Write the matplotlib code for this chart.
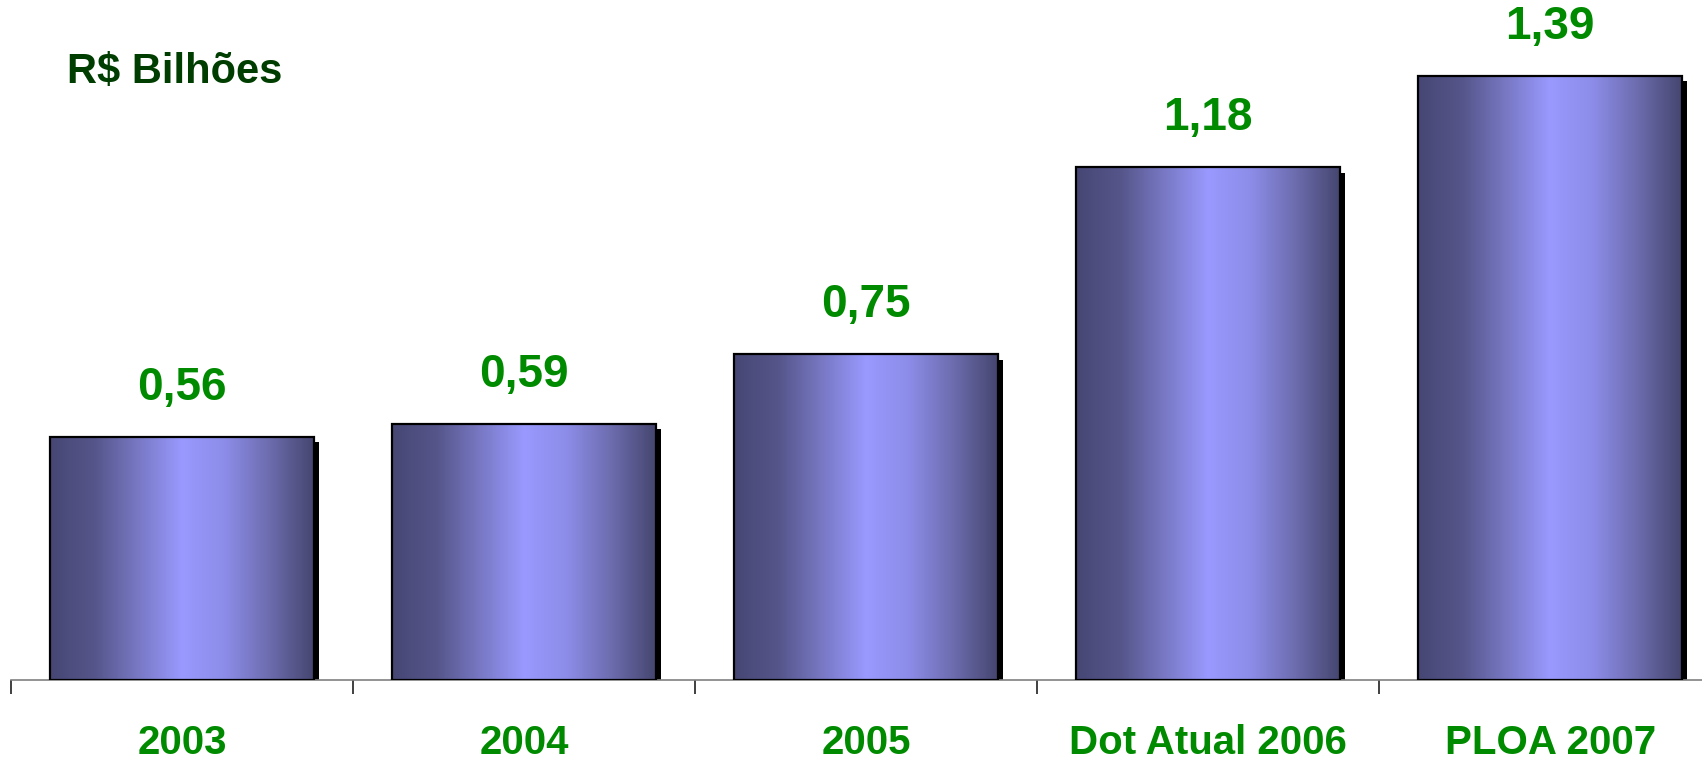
import numpy as np
import matplotlib
matplotlib.use('Agg')
import matplotlib.pyplot as plt
import matplotlib.patheffects as pe
from matplotlib.colors import LinearSegmentedColormap

categories = ['2003', '2004', '2005', 'Dot Atual 2006', 'PLOA 2007']
values = [0.56, 0.59, 0.75, 1.18, 1.39]
value_labels = ['0,56', '0,59', '0,75', '1,18', '1,39']

plt.rcParams['font.family'] = ['Liberation Sans', 'DejaVu Sans']
green = '#008a00'

fig = plt.figure(figsize=(17.02, 7.61), dpi=100)
ax = fig.add_axes([11 / 1702, 81 / 761, 1691 / 1702, 652 / 761])

x = np.arange(len(categories))
width = 0.77

# shadow
ax.bar(x, values, width, color='none', zorder=1,
       path_effects=[pe.SimplePatchShadow(offset=(4, -4), shadow_rgbFace='k', alpha=1)])

cmap = LinearSegmentedColormap.from_list(
    'cyl', ['#474775', '#55558a', '#7878c4', '#9999ff', '#8c8ce8', '#6c6cae', '#464670'])
grad = np.linspace(0, 1, 256).reshape(1, -1)

bars = ax.bar(x, values, width, facecolor='none', edgecolor='black', lw=1.6, zorder=3)
for b in bars:
    im = ax.imshow(grad, cmap=cmap, aspect='auto', zorder=2,
                   extent=[b.get_x(), b.get_x() + b.get_width(), 0, b.get_height()])
    im.set_clip_path(b)

for xi, v, lab in zip(x, values, value_labels):
    ax.annotate(lab, (xi, v), xytext=(0, 35), textcoords='offset points',
                ha='center', va='center', fontsize=33, fontweight='bold', color=green)

ax.set_xlim(-0.5, 4.444)
ax.set_ylim(0, 1.5)

for s in ['top', 'right', 'left']:
    ax.spines[s].set_visible(False)
ax.spines['bottom'].set_color('#808080')
ax.spines['bottom'].set_linewidth(1.2)

ax.set_yticks([])
ax.set_xticks(x)
ax.set_xticklabels(categories, fontsize=29, fontweight='bold', color=green)
ax.tick_params(axis='x', which='major', length=0, pad=32)
ax.set_xticks(np.arange(-0.5, 4.5, 1), minor=True)
ax.tick_params(axis='x', which='minor', length=10, width=1.2, color='#202020', direction='out')

fig.text(67 / 1702, 1 - 72 / 761, 'R$ Bilhões', fontsize=30, fontweight='bold',
         color='#003d00', ha='left', va='center')

fig.savefig('out.png', dpi=100)
